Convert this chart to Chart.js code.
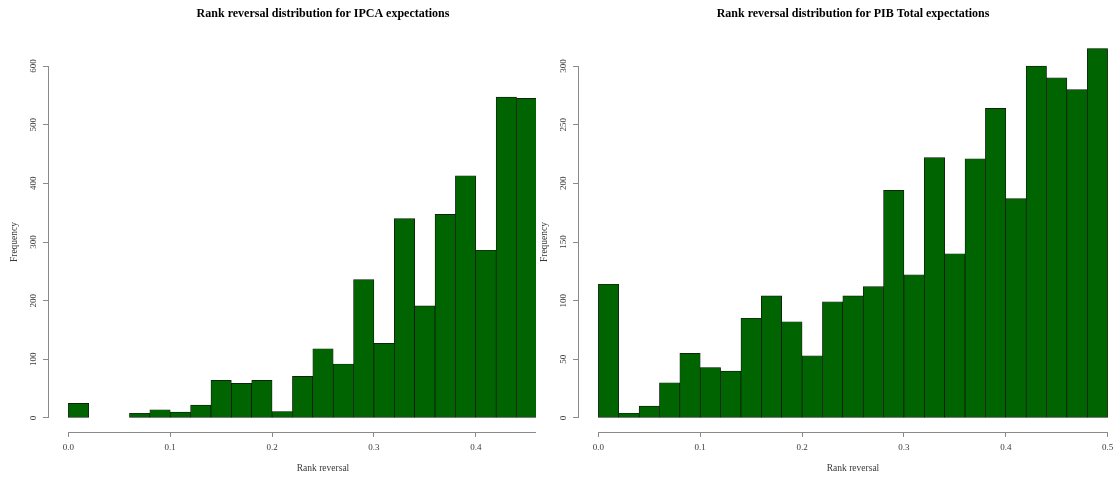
<!DOCTYPE html>
<html>
<head>
<meta charset="utf-8">
<title>Rank reversal distributions</title>
<script src="https://cdn.jsdelivr.net/npm/chart.js@4/dist/chart.umd.min.js"></script>
<style>
  html, body { margin: 0; padding: 0; background: #ffffff; }
  #stage { position: relative; width: 1118px; height: 477px; overflow: hidden; background: #ffffff; }
  #leftWrap { position: absolute; left: 0; top: 0; width: 536px; height: 477px; overflow: hidden; }
  #ipcaChart { position: absolute; left: 0; top: 0; }
  #pibChart { position: absolute; left: 530px; top: 0; }
</style>
</head>
<body>
<div id="stage">
  <div id="leftWrap"><canvas id="ipcaChart" width="646" height="477"></canvas></div>
  <canvas id="pibChart" width="646" height="477"></canvas>
</div>
<script>
// Histogram bins (lower edges) and counts
const binWidth = 0.02;

const ipcaTitle = 'Rank reversal distribution for IPCA expectations';
const ipcaBreaks = [0.00, 0.02, 0.04, 0.06, 0.08, 0.10, 0.12, 0.14, 0.16, 0.18, 0.20, 0.22,
                    0.24, 0.26, 0.28, 0.30, 0.32, 0.34, 0.36, 0.38, 0.40, 0.42, 0.44];
const ipcaCounts = [25, 0, 0, 8, 14, 10, 22, 64, 59, 64, 11, 71,
                    118, 92, 236, 127, 340, 191, 347, 413, 286, 547, 545];
const ipcaYTicks = [0, 100, 200, 300, 400, 500, 600];

const pibTitle = 'Rank reversal distribution for PIB Total expectations';
const pibBreaks = [0.00, 0.02, 0.04, 0.06, 0.08, 0.10, 0.12, 0.14, 0.16, 0.18, 0.20, 0.22,
                   0.24, 0.26, 0.28, 0.30, 0.32, 0.34, 0.36, 0.38, 0.40, 0.42, 0.44, 0.46, 0.48];
const pibCounts = [114, 4, 10, 30, 55, 43, 40, 85, 104, 82, 53, 99,
                   104, 112, 194, 122, 222, 140, 221, 264, 187, 300, 290, 280, 315];
const pibYTicks = [0, 50, 100, 150, 200, 250, 300];

const xTicks = [0, 0.1, 0.2, 0.3, 0.4, 0.5];
const xLabel = 'Rank reversal';
const yLabel = 'Frequency';

// Styling
const AXIS_GREY = '#8a8a8a';
const TEXT_GREY = '#3a3a3a';
const BAR_FILL = '#006400';
const BAR_EDGE = '#111111';
const SERIF = "'Liberation Serif', 'Times New Roman', serif";
const RANGE_PAD = 0.04;   // axis range extends 4% past the data limits

// Axis lines run from the first to the last tick only, detached from the plot corner
const detachedAxes = {
  id: 'detachedAxes',
  afterDraw(chart) {
    const { ctx } = chart;
    const x = chart.scales.x, y = chart.scales.y;
    ctx.save();
    ctx.strokeStyle = AXIS_GREY;
    ctx.lineWidth = 1;
    ctx.beginPath();
    const yx = Math.round(y.right) + 0.5;
    ctx.moveTo(yx, y.getPixelForValue(y.ticks[0].value));
    ctx.lineTo(yx, y.getPixelForValue(y.ticks[y.ticks.length - 1].value));
    const xy = Math.round(x.top) + 0.5;
    ctx.moveTo(x.getPixelForValue(x.ticks[0].value), xy);
    ctx.lineTo(x.getPixelForValue(x.ticks[x.ticks.length - 1].value), xy);
    ctx.stroke();
    ctx.restore();
  }
};

function histogram(canvasId, titleText, breaks, counts, yTicks) {
  const points = breaks.map((b, i) => ({ x: b + binWidth / 2, y: counts[i] }));
  const xLo = xTicks[0], xHi = xTicks[xTicks.length - 1];
  const xSpan = xHi - xLo;
  const yTop = yTicks[yTicks.length - 1];

  return new Chart(document.getElementById(canvasId), {
    type: 'bar',
    data: {
      datasets: [{
        data: points,
        backgroundColor: BAR_FILL,
        borderColor: BAR_EDGE,
        borderWidth: 0.7,
        borderSkipped: false,
        barPercentage: 1,
        categoryPercentage: 1,
        grouped: false,
        clip: false
      }]
    },
    options: {
      responsive: false,
      animation: false,
      devicePixelRatio: 1,
      layout: { padding: 0, autoPadding: false },
      plugins: {
        legend: { display: false },
        tooltip: { enabled: false },
        title: {
          display: true,
          text: titleText,
          color: '#000000',
          font: { family: SERIF, size: 12, weight: 'bold', lineHeight: 1.2 },
          padding: { top: 6.8, bottom: 30.8 }
        }
      },
      scales: {
        x: {
          type: 'linear',
          offset: false,
          min: xLo - RANGE_PAD * xSpan,
          max: xHi + RANGE_PAD * xSpan,
          afterBuildTicks: s => { s.ticks = xTicks.map(v => ({ value: v })); },
          afterFit: s => { s.height = 45; },
          border: { display: false },
          grid: { display: true, drawOnChartArea: false, drawTicks: true, tickLength: 5, color: AXIS_GREY, offset: false },
          ticks: {
            autoSkip: false, maxRotation: 0, minRotation: 0, padding: 5,
            color: TEXT_GREY, font: { family: SERIF, size: 9 },
            callback: v => Number(v).toFixed(1)
          },
          title: {
            display: true, text: xLabel, color: TEXT_GREY,
            font: { family: SERIF, size: 9.5, lineHeight: 1.2 },
            padding: { top: 0, bottom: 3.3 }
          }
        },
        y: {
          type: 'linear',
          position: 'left',
          min: -RANGE_PAD * yTop,
          max: yTop * (1 + RANGE_PAD),
          afterBuildTicks: s => { s.ticks = yTicks.map(v => ({ value: v })); },
          afterFit: s => { s.width = 48; },
          border: { display: false },
          grid: { display: true, drawOnChartArea: false, drawTicks: true, tickLength: 5, color: AXIS_GREY },
          ticks: {
            autoSkip: false, minRotation: 90, maxRotation: 90, crossAlign: 'center', padding: 3,
            color: TEXT_GREY, font: { family: SERIF, size: 9 },
            callback: v => String(v)
          },
          title: {
            display: true, text: yLabel, color: TEXT_GREY,
            font: { family: SERIF, size: 9.5, lineHeight: 1.2 },
            padding: { top: 8.8, bottom: 0 }
          }
        },
        spacer: {
          type: 'linear',
          position: 'right',
          display: true,
          afterFit: s => { s.width = 48; },
          border: { display: false },
          grid: { display: false },
          ticks: { display: false }
        }
      }
    },
    plugins: [detachedAxes]
  });
}

histogram('ipcaChart', ipcaTitle, ipcaBreaks, ipcaCounts, ipcaYTicks);
histogram('pibChart', pibTitle, pibBreaks, pibCounts, pibYTicks);
</script>
</body>
</html>
